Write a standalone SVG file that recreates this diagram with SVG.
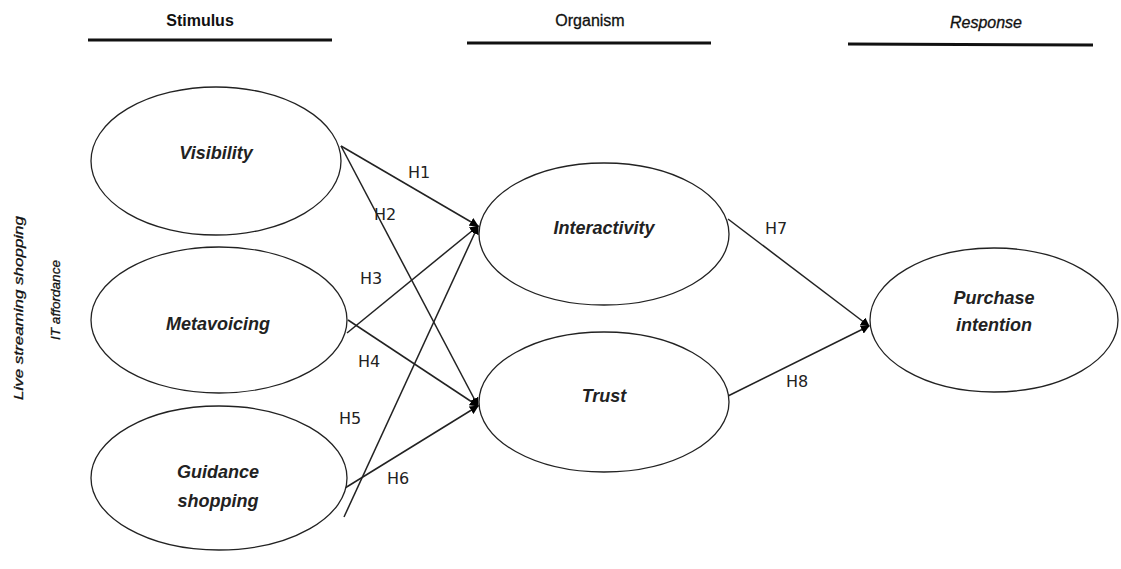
<svg xmlns="http://www.w3.org/2000/svg" width="1121" height="569" viewBox="0 0 1121 569">
<style>
.hdr{font-family:"Liberation Sans",Arial,sans-serif;font-size:16px;font-weight:bold;fill:#111;text-anchor:middle}
.rule{stroke:#111;stroke-width:3}
.node ellipse{fill:#fff;stroke:#222;stroke-width:1.3}
.lbl{font-family:"Liberation Sans",Arial,sans-serif;font-size:18px;font-weight:bold;font-style:italic;fill:#222;text-anchor:middle}
.h{font-family:"DejaVu Sans",sans-serif;font-size:16px;fill:#222}
.side{font-family:"Liberation Sans",Arial,sans-serif;font-size:13px;font-style:italic;fill:#111;text-anchor:middle}
#connectors line{stroke:#222;stroke-width:1.5;marker-end:url(#arr)}
</style>
<defs>
<marker id="arr" viewBox="0 0 10 10" refX="9" refY="5" markerWidth="9" markerHeight="9" orient="auto" markerUnits="userSpaceOnUse">
<path d="M0,0 L10,5 L0,10 z" fill="#000"/>
</marker>
</defs>
<rect width="1121" height="569" fill="#fff"/>
<g id="headers">
<text class="hdr" x="200" y="26">Stimulus</text>
<line class="rule" x1="88" y1="40" x2="332" y2="40"/>
<text class="hdr" x="590" y="26" style="font-weight:normal" stroke="#111" stroke-width="0.3">Organism</text>
<line class="rule" x1="467" y1="43" x2="711" y2="43"/>
<text class="hdr" x="986" y="28" style="font-weight:normal;font-style:italic" stroke="#111" stroke-width="0.3">Response</text>
<line class="rule" x1="848" y1="44" x2="1093" y2="45"/>
</g>
<g id="side-labels">
<text class="side" transform="translate(23,308) rotate(-90)" textLength="184" lengthAdjust="spacingAndGlyphs" stroke="#111" stroke-width="0.3">Live streaming shopping</text>
<text class="side" transform="translate(60,300) rotate(-90)" textLength="80" lengthAdjust="spacingAndGlyphs" stroke="#111" stroke-width="0.3">IT affordance</text>
</g>
<g id="connectors">
<line x1="341" y1="146" x2="478" y2="226"/>
<line x1="341" y1="146" x2="478" y2="406"/>
<line x1="347" y1="333" x2="478" y2="226"/>
<line x1="348" y1="320" x2="478" y2="406"/>
<line x1="344" y1="517" x2="478" y2="226"/>
<line x1="345" y1="488" x2="478" y2="406"/>
<line x1="728" y1="219" x2="869" y2="326"/>
<line x1="728" y1="396" x2="869" y2="326"/>
</g>
<g id="hyp-labels">
<text class="h" x="408" y="178">H1</text>
<text class="h" x="374" y="220">H2</text>
<text class="h" x="360" y="284">H3</text>
<text class="h" x="358" y="367">H4</text>
<text class="h" x="339" y="424">H5</text>
<text class="h" x="387" y="484">H6</text>
<text class="h" x="765" y="234">H7</text>
<text class="h" x="786" y="387">H8</text>
</g>
<g id="visibility" class="node"><ellipse cx="216" cy="161" rx="125" ry="74"/><text class="lbl" x="216" y="159">Visibility</text></g>
<g id="metavoicing" class="node"><ellipse cx="219" cy="320" rx="128" ry="73"/><text class="lbl" x="218" y="330">Metavoicing</text></g>
<g id="guidance" class="node"><ellipse cx="219" cy="478" rx="128" ry="72"/><text class="lbl" x="218" y="478">Guidance</text><text class="lbl" x="218" y="507">shopping</text></g>
<g id="interactivity" class="node"><ellipse cx="604" cy="234" rx="125" ry="71"/><text class="lbl" x="604" y="234">Interactivity</text></g>
<g id="trust" class="node"><ellipse cx="604" cy="402" rx="125" ry="70"/><text class="lbl" x="604" y="402">Trust</text></g>
<g id="purchase" class="node"><ellipse cx="994" cy="320" rx="124" ry="72"/><text class="lbl" x="994" y="304">Purchase</text><text class="lbl" x="994" y="331">intention</text></g>
</svg>
